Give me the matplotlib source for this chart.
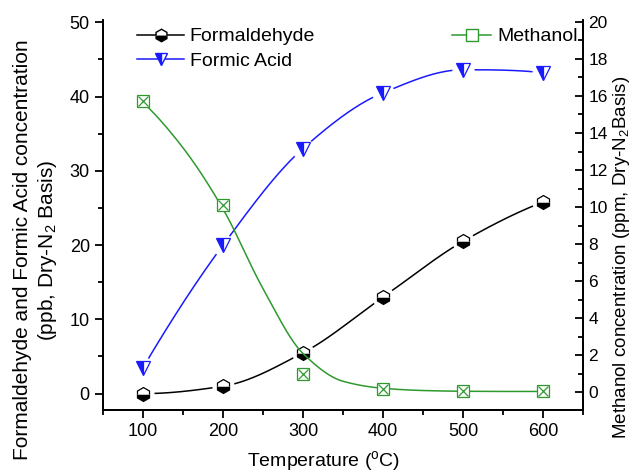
#!/usr/bin/env python3
"""Formaldehyde / Formic acid / Methanol concentration vs temperature."""

import matplotlib

matplotlib.use("Agg")
import matplotlib.pyplot as plt
import numpy as np

plt.rcParams["font.family"] = ["Liberation Sans", "DejaVu Sans"]
plt.rcParams["mathtext.fontset"] = "custom"
plt.rcParams["mathtext.rm"] = "Liberation Sans"

# データ
temperature = [100, 200, 300, 400, 500, 600]
formaldehyde = [0.0, 1.0, 5.5, 13.0, 20.5, 25.8]      # ppb
formic_acid = [3.5, 20.0, 33.0, 40.5, 43.6, 43.2]     # ppb
methanol = [15.75, 10.1, 1.0, 0.2, 0.05, 0.05]        # ppm

# メタノールのフィット曲線
methanol_fit_t = [100, 150, 200, 250, 300, 350, 400, 450, 500, 550, 600]
methanol_fit = [15.65, 13.2, 9.9, 5.6, 2.1, 0.6, 0.22, 0.1, 0.06, 0.05, 0.05]

BLACK = "#000000"
BLUE = "#1a1aff"
GREEN = "#2e9a2e"


def pchip(x, y, xs):
    """単調三次エルミート補間（曲線描画用）"""
    x = np.asarray(x, float)
    y = np.asarray(y, float)
    h = np.diff(x)
    d = np.diff(y) / h
    n = len(x)
    m = np.zeros(n)
    for k in range(1, n - 1):
        if d[k - 1] * d[k] > 0:
            w1 = 2 * h[k] + h[k - 1]
            w2 = h[k] + 2 * h[k - 1]
            m[k] = (w1 + w2) / (w1 / d[k - 1] + w2 / d[k])
    for i, hi, hj, di, dj in ((0, h[0], h[1], d[0], d[1]),
                              (n - 1, h[-1], h[-2], d[-1], d[-2])):
        mm = ((2 * hi + hj) * di - hi * dj) / (hi + hj)
        if np.sign(mm) != np.sign(di):
            mm = 0.0
        elif np.sign(di) != np.sign(dj) and abs(mm) > abs(3 * di):
            mm = 3 * di
        m[i] = mm
    idx = np.clip(np.searchsorted(x, xs) - 1, 0, n - 2)
    t = (xs - x[idx]) / h[idx]
    h00 = 2 * t**3 - 3 * t**2 + 1
    h10 = t**3 - 2 * t**2 + t
    h01 = -2 * t**3 + 3 * t**2
    h11 = t**3 - t**2
    return (h00 * y[idx] + h10 * h[idx] * m[idx]
            + h01 * y[idx + 1] + h11 * h[idx] * m[idx + 1])


xs = np.linspace(100, 600, 500)
fa_curve = pchip(temperature, formaldehyde, xs)
fo_curve = pchip(temperature, formic_acid, xs)
me_curve = pchip(methanol_fit_t, methanol_fit, xs)

fig = plt.figure(figsize=(6.34, 4.76), dpi=100)
ax = fig.add_axes([0.1625, 0.1387, 0.757, 0.8193])
ax2 = ax.twinx()

# 左軸: ホルムアルデヒド・ギ酸
ax.plot(xs, fa_curve, color=BLACK, lw=1.1, zorder=2)
ax.plot(xs, fo_curve, color=BLUE, lw=1.1, zorder=2)
# 線の切れ目（Origin風）
ax.plot(temperature, formaldehyde, ls="none", marker="o", ms=15,
        mfc="white", mec="white", zorder=3)
ax.plot(temperature, formic_acid, ls="none", marker="o", ms=15,
        mfc="white", mec="white", zorder=3)
ax.plot(temperature, formaldehyde, ls="none", marker="h", ms=10,
        fillstyle="bottom", mfc=BLACK, mfcalt="white", mec=BLACK,
        mew=0.9, zorder=4)
ax.plot(temperature, formic_acid, ls="none", marker="v", ms=10,
        fillstyle="left", mfc=BLUE, mfcalt="white", mec=BLUE,
        mew=0.9, zorder=4)

# 右軸: メタノール
ax2.plot(xs, me_curve, color=GREEN, lw=1.1, zorder=2)
ax2.plot(temperature, methanol, ls="none", marker="s", ms=9,
         mfc="white", mec=GREEN, mew=0.9, zorder=4)
ax2.plot(temperature, methanol, ls="none", marker="x", ms=7,
         mec=GREEN, mew=0.9, zorder=5)

ax.set_xlim(50, 650)
ax.set_ylim(-2.2, 50.3)
ax2.set_ylim(-0.95, 20.1)

ax.set_xticks(range(100, 601, 100))
ax.set_xticks(range(50, 651, 50), minor=True)
ax.set_yticks(range(0, 51, 10))
ax.set_yticks(range(0, 51, 5), minor=True)
ax2.set_yticks(range(0, 21, 2))
ax2.set_yticks(range(0, 21, 1), minor=True)

for a in (ax, ax2):
    a.spines["top"].set_visible(False)
    for s in a.spines.values():
        s.set_linewidth(1.3)
ax.tick_params(which="both", direction="out", labelsize=13, width=1.3)
ax.tick_params(which="major", length=6)
ax.tick_params(which="minor", length=3.5)
ax2.tick_params(which="both", direction="in", labelsize=12.5, width=1.3,
                pad=4)
ax2.tick_params(which="major", length=6)
ax2.tick_params(which="minor", length=3.5)

ax.set_xlabel("Temperature ($^{\\rm o}$C)", fontsize=14)
ax.xaxis.set_label_coords(0.46, -0.1)
ax.set_ylabel("Formaldehyde and Formic Acid concentration\n"
              "(ppb, Dry-N$_2$ Basis)", fontsize=15, linespacing=1.25)
ax.yaxis.set_label_coords(-0.092, 0.41)
ax2.set_ylabel("Methanol concentration (ppm, Dry-N$_2$Basis)",
               fontsize=13.5)
ax2.yaxis.set_label_coords(1.058, 0.39)

# 凡例
h_fa = ax.plot([], [], color=BLACK, lw=1.1, marker="h", ms=9,
               fillstyle="bottom", mfc=BLACK, mfcalt="white", mec=BLACK)[0]
h_fo = ax.plot([], [], color=BLUE, lw=1.1, marker="v", ms=9,
               fillstyle="left", mfc=BLUE, mfcalt="white", mec=BLUE)[0]
h_me = ax2.plot([], [], color=GREEN, lw=1.1, marker="s", ms=8,
                mfc="white", mec=GREEN)[0]
ax.legend([h_fa, h_fo], ["Formaldehyde", "Formic Acid"],
          loc="upper left", bbox_to_anchor=(0.055, 1.0), frameon=False,
          fontsize=14, handlelength=2.4, handletextpad=0.3,
          labelspacing=0.35, borderaxespad=0.0)
ax2.legend([h_me], ["Methanol"], loc="upper right",
           bbox_to_anchor=(1.005, 1.0), frameon=False, fontsize=14,
           handlelength=2.0, handletextpad=0.3, borderaxespad=0.0)

fig.savefig("out.png", dpi=100)
